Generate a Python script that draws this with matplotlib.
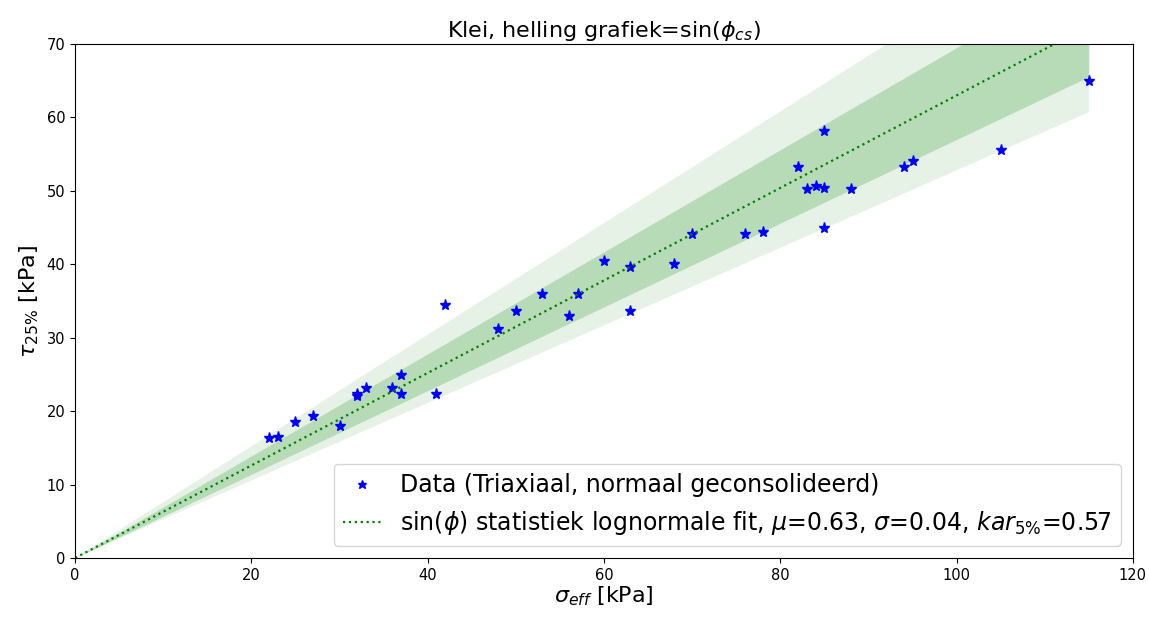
import numpy as np
import matplotlib
matplotlib.use('Agg')
import matplotlib.pyplot as plt

# data
sigma_eff = [22, 23, 25, 27, 30, 32, 32, 33, 36, 37, 37, 41, 42, 48, 50, 53, 56, 57,
             60, 63, 63, 68, 70, 76, 78, 82, 83, 84, 85, 85, 85, 88, 94, 95, 105, 115]
tau_25 = [16.3, 16.5, 18.5, 19.4, 18.0, 22.3, 22.0, 23.1, 23.1, 24.9, 22.3, 22.3, 34.5,
          31.2, 33.6, 36.0, 33.0, 36.0, 40.5, 39.6, 33.6, 40.0, 44.1, 44.1, 44.4, 53.2,
          50.2, 50.6, 58.2, 50.4, 45.0, 50.2, 53.2, 54.1, 55.6, 65.0]

mu = 0.63
sd = 0.04
kar5 = 0.57
band_inner = [0.57, 0.695]   # slopes of the darker band
band_outer = [0.528, 0.76]   # slopes of the lighter band

xs = np.array([0, max(sigma_eff)])

fig = plt.figure(figsize=(11.49, 6.17), dpi=100)
ax = fig.add_axes([0.0653, 0.0956, 0.9207, 0.8331])

ax.fill_between(xs, band_outer[0] * xs, band_outer[1] * xs, color='green', alpha=0.1, lw=0)
ax.fill_between(xs, band_inner[0] * xs, band_inner[1] * xs, color='green', alpha=0.2, lw=0)
ax.plot(sigma_eff, tau_25, 'b*', markersize=8, label='Data (Triaxiaal, normaal geconsolideerd)')
ax.plot(xs, mu * xs, 'g:', linewidth=1.6,
        label=r'sin($\phi$) statistiek lognormale fit, $\mu$=%.2f, $\sigma$=%.2f, $kar_{5\%%}$=%.2f' % (mu, sd, kar5))

ax.set_xlim(0, 120)
ax.set_ylim(0, 70)
ax.tick_params(labelsize=10.5)
ax.set_xlabel(r'$\sigma_{eff}$ [kPa]', fontsize=16, labelpad=1)
ax.set_ylabel(r'$\tau_{25\%}$ [kPa]', fontsize=16)
ax.set_title(r'Klei, helling grafiek=sin($\phi_{cs}$)', fontsize=16, pad=5)
ax.legend(loc='lower right', fontsize=17, markerscale=0.8, handlelength=1.6)

plt.savefig('out.png', dpi=100)
plt.close()
